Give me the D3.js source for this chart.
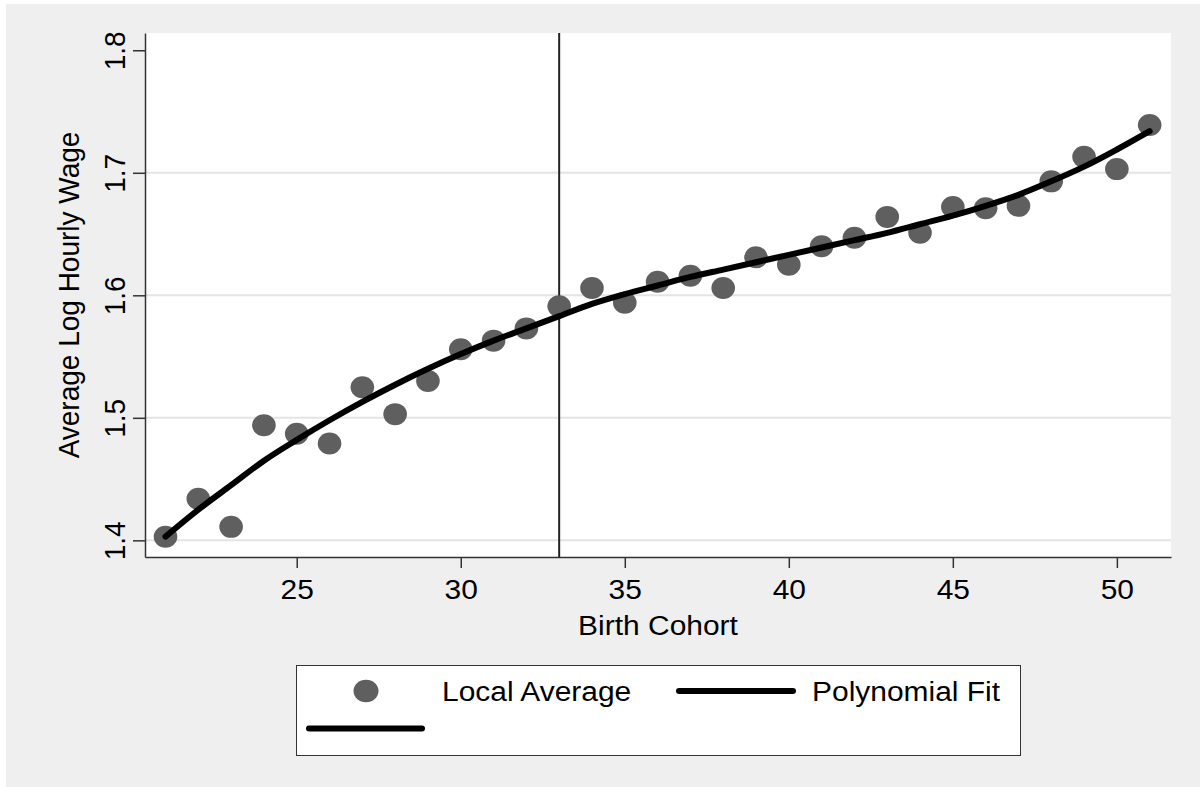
<!DOCTYPE html>
<html>
<head>
<meta charset="utf-8">
<script src="https://cdn.jsdelivr.net/npm/d3@7"></script>
<style>
  body { margin: 0; background: #fff; }
  text { font-family: "Liberation Sans", Arial, sans-serif; font-size: 28px; fill: #000; }
</style>
</head>
<body>
<div id="chart"></div>
<script>
// cohorts and values
const cohorts = [21, 22, 23, 24, 25, 26, 27, 28, 29, 30, 31, 32, 33, 34, 35, 36,
                 37, 38, 39, 40, 41, 42, 43, 44, 45, 46, 47, 48, 49, 50, 51];
const localAverage = [1.403, 1.434, 1.411, 1.494, 1.487, 1.479, 1.525, 1.503, 1.530, 1.556, 1.563, 1.573,
                      1.591, 1.606, 1.594, 1.611, 1.616, 1.606, 1.631, 1.625, 1.640, 1.647, 1.664, 1.651,
                      1.672, 1.671, 1.673, 1.693, 1.713, 1.703, 1.739];
const polyFit = [1.403, 1.425, 1.445, 1.465, 1.482, 1.498, 1.513, 1.527, 1.540, 1.552, 1.563, 1.573,
                 1.583, 1.593, 1.601, 1.608, 1.615, 1.621, 1.627, 1.633, 1.639, 1.645, 1.651, 1.658,
                 1.665, 1.673, 1.682, 1.693, 1.705, 1.719, 1.734];
const xTicks = [25, 30, 35, 40, 45, 50];
const yTicks = [1.4, 1.5, 1.6, 1.7, 1.8];
const cutoff = 33;

const width = 1204, height = 787;
const plot = { left: 145, top: 33, right: 1171, bottom: 557 };
const stretch = 1.07;

const svg = d3.select("#chart").append("svg")
    .attr("width", width)
    .attr("height", height);

// outer grey background
svg.append("rect")
    .attr("x", 6).attr("y", 4)
    .attr("width", 1194).attr("height", 783)
    .attr("fill", "#efefef");

// plot region
svg.append("rect")
    .attr("x", plot.left).attr("y", plot.top)
    .attr("width", plot.right - plot.left).attr("height", plot.bottom - plot.top)
    .attr("fill", "#fff");

const x = d3.scaleLinear().domain([20.375, 51.65]).range([plot.left, plot.right]);
const y = d3.scaleLinear().domain([1.3864, 1.8141]).range([plot.bottom, plot.top]);

// gridlines
svg.append("g").selectAll("line")
    .data(yTicks.filter(d => d < 1.75))
    .enter().append("line")
    .attr("x1", plot.left).attr("x2", plot.right)
    .attr("y1", d => y(d)).attr("y2", d => y(d))
    .attr("stroke", "#e4e4e4")
    .attr("stroke-width", 2);

// y axis
const yAxis = svg.append("g")
    .attr("transform", `translate(${plot.left},0)`)
    .call(d3.axisLeft(y).tickValues(yTicks).tickSize(12).tickSizeOuter(0).tickFormat(d3.format(".1f")));
yAxis.select(".domain").attr("stroke", "#333").attr("stroke-width", 1.5);
yAxis.selectAll(".tick line").attr("stroke", "#333").attr("stroke-width", 1.5);
yAxis.selectAll(".tick text")
    .attr("x", null).attr("dy", null)
    .attr("transform", `translate(-20,0) rotate(-90) scale(1,${stretch})`)
    .attr("text-anchor", "middle")
    .style("font-size", "28px")
    .style("font-family", "'Liberation Sans', Arial, sans-serif")
    .attr("fill", "#000");

// x axis
const xAxis = svg.append("g")
    .attr("transform", `translate(0,${plot.bottom})`)
    .call(d3.axisBottom(x).tickValues(xTicks).tickSize(11).tickSizeOuter(0));
xAxis.select(".domain").attr("stroke", "#333").attr("stroke-width", 1.5);
xAxis.selectAll(".tick line").attr("stroke", "#333").attr("stroke-width", 1.5);
xAxis.selectAll(".tick text")
    .attr("y", null).attr("dy", null)
    .attr("transform", `translate(0,42) scale(${stretch},1)`)
    .style("font-size", "28px")
    .style("font-family", "'Liberation Sans', Arial, sans-serif")
    .attr("fill", "#000");

// axis titles
svg.append("text")
    .attr("transform", `translate(658,635) scale(${stretch},1)`)
    .attr("text-anchor", "middle")
    .text("Birth Cohort");

svg.append("text")
    .attr("transform", `translate(79,295) rotate(-90) scale(1,${stretch})`)
    .attr("text-anchor", "middle")
    .text("Average Log Hourly Wage");

// cutoff line
svg.append("line")
    .attr("x1", x(cutoff)).attr("x2", x(cutoff))
    .attr("y1", plot.top).attr("y2", plot.bottom)
    .attr("stroke", "#222")
    .attr("stroke-width", 2);

// local averages
svg.append("g").selectAll("ellipse")
    .data(cohorts)
    .enter().append("ellipse")
    .attr("cx", d => x(d))
    .attr("cy", (d, i) => y(localAverage[i]))
    .attr("rx", 11.8).attr("ry", 11)
    .attr("fill", "#5f5f5f");

// polynomial fit
const line = d3.line()
    .x(d => x(d[0]))
    .y(d => y(d[1]))
    .curve(d3.curveMonotoneX);

svg.append("path")
    .datum(cohorts.map((c, i) => [c, polyFit[i]]))
    .attr("d", line)
    .attr("fill", "none")
    .attr("stroke", "#000")
    .attr("stroke-width", 6)
    .attr("stroke-linecap", "round")
    .attr("stroke-linejoin", "round");

// legend
const legend = svg.append("g");
legend.append("rect")
    .attr("x", 296.5).attr("y", 665.5)
    .attr("width", 724).attr("height", 90)
    .attr("fill", "#fff")
    .attr("stroke", "#333")
    .attr("stroke-width", 1);

legend.append("ellipse")
    .attr("cx", 366).attr("cy", 691)
    .attr("rx", 12.5).attr("ry", 11.3)
    .attr("fill", "#5f5f5f");
legend.append("text")
    .attr("transform", `translate(442,701) scale(${stretch},1)`)
    .text("Local Average");

legend.append("line")
    .attr("x1", 679).attr("x2", 793)
    .attr("y1", 691).attr("y2", 691)
    .attr("stroke", "#000").attr("stroke-width", 6)
    .attr("stroke-linecap", "round");
legend.append("text")
    .attr("transform", `translate(812,701) scale(${stretch},1)`)
    .text("Polynomial Fit");

legend.append("line")
    .attr("x1", 309).attr("x2", 422)
    .attr("y1", 728.5).attr("y2", 728.5)
    .attr("stroke", "#000").attr("stroke-width", 6)
    .attr("stroke-linecap", "round");
</script>
</body>
</html>
